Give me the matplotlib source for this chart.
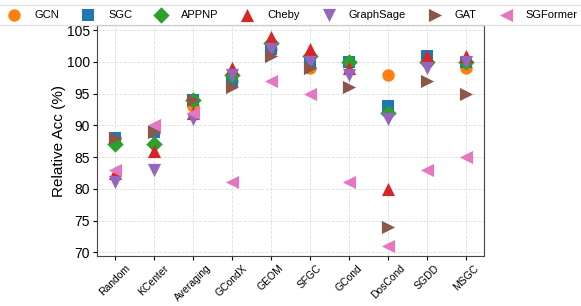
import matplotlib
matplotlib.use("Agg")
import matplotlib.pyplot as plt

plt.rcParams['font.family'] = ['Liberation Sans', 'DejaVu Sans']

methods = ["Random", "KCenter", "Averaging", "GCondX", "GEOM", "SFGC", "GCond", "DosCond", "SGDD", "MSGC"]
models = ["GCN", "SGC", "APPNP", "Cheby", "GraphSage", "GAT", "SGFormer"]

gcn       = [88, 89, 93, 97, 102, 99, 100, 98, 100, 99]
sgc       = [88, 89, 94, 97, 102, 100, 100, 93, 101, 100]
appnp     = [87, 87, 94, 98, 103, 101, 100, 92, 100, 100]
cheby     = [82.5, 86, 92, 99, 104, 102, 99, 80, 101, 101]
graphsage = [81, 83, 91, 98, 102, 100, 98, 91, 99, 100]
gat       = [88, 89, 94, 96, 101, 99, 96, 74, 97, 95]
sgformer  = [83, 90, 92, 81, 97, 95, 81, 71, 83, 85]

series = [gcn, sgc, appnp, cheby, graphsage, gat, sgformer]
markers = ["o", "s", "D", "^", "v", ">", "<"]
colors = ["#ff7f0e", "#1f77b4", "#2ca02c", "#d62728", "#9467bd", "#8c564b", "#e377c2"]
sizes = [80, 80, 70, 90, 90, 90, 90]

fig = plt.figure(figsize=(5.81, 3.06), dpi=100)
ax = fig.add_axes([0.167, 0.163, 0.666, 0.755])
x = list(range(len(methods)))
handles = []
for name, vals, m, c, s in zip(models, series, markers, colors, sizes):
    h = ax.scatter(x, vals, marker=m, color=c, s=s, label=name, zorder=3, linewidths=0)
    handles.append(h)

ax.set_xticks(x)
ax.set_xticklabels(methods, rotation=45, fontsize=7.5, ha='center')
ax.set_yticks([70, 75, 80, 85, 90, 95, 100, 105])
ax.tick_params(axis='y', labelsize=10, length=3, pad=2)
ax.tick_params(axis='x', length=3, pad=2)
ax.set_xlim(-0.45, 9.45)
ax.set_ylim(69.4, 105.8)
ax.set_ylabel("Relative Acc (%)", fontsize=11, labelpad=1)
ax.grid(True, linestyle='--', color='#dddddd', linewidth=0.6, zorder=0)
ax.set_axisbelow(True)
for sp in ax.spines.values():
    sp.set_color('#444444')

fig.legend(handles=handles, labels=models, loc='upper center', bbox_to_anchor=(0.5, 0.995),
           ncol=7, fontsize=8, frameon=True, handletextpad=0.8, columnspacing=1.6,
           borderpad=0.45, borderaxespad=0.3, fancybox=True, edgecolor='#dddddd')

fig.savefig("out.png", dpi=100)
